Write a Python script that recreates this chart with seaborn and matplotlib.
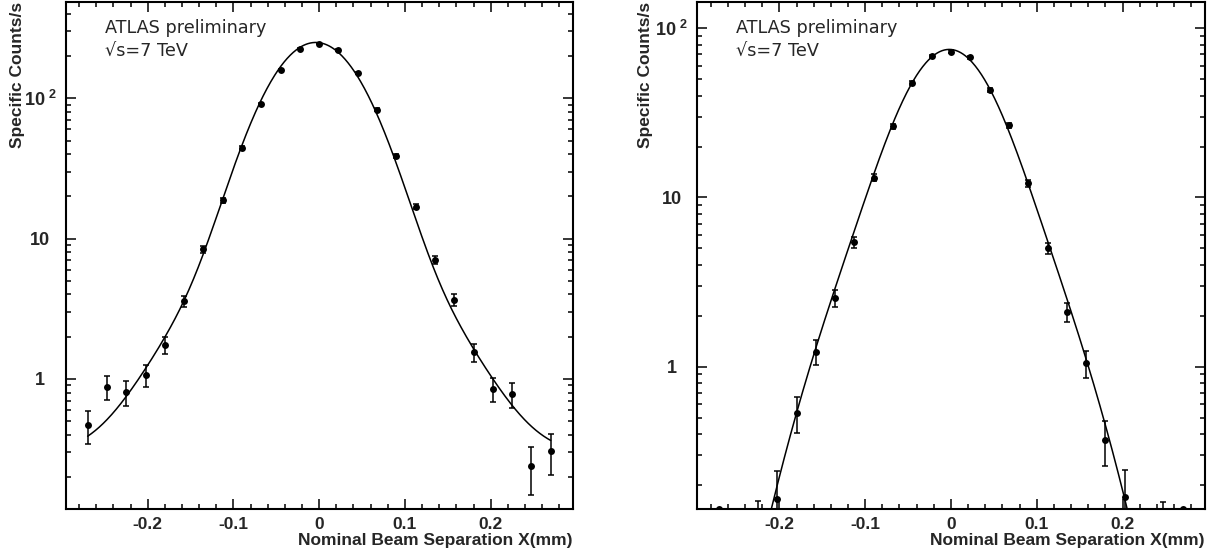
import numpy as np
import matplotlib
matplotlib.use("Agg")
import matplotlib.pyplot as plt
import matplotlib.ticker as mticker
import seaborn as sns

# ---------------- data ----------------
x_sep = [-0.27, -0.2475, -0.225, -0.2025, -0.18, -0.1575, -0.135, -0.1125, -0.09,
         -0.0675, -0.045, -0.0225, 0.0, 0.0225, 0.045, 0.0675, 0.09, 0.1125,
         0.135, 0.1575, 0.18, 0.2025, 0.225, 0.2475, 0.27]

left_counts = [0.47, 0.873, 0.808, 1.07, 1.75, 3.57, 8.4, 18.8, 44.3, 90.6, 160, 226,
               245, 220, 151, 83, 38.7, 16.9, 7.05, 3.65, 1.55, 0.85, 0.78, 0.238, 0.306]
left_err = [0.125, 0.17, 0.165, 0.19, 0.25, 0.33, 0.52, 0.78, 1.2, 1.7, 2.3, 2.7,
            2.8, 2.7, 2.2, 1.6, 1.1, 0.74, 0.48, 0.36, 0.22, 0.17, 0.16, 0.09, 0.10]

right_counts = [0.1439, 0.05, 0.09, 0.166, 0.534, 1.227, 2.55, 5.42, 13.1, 26.3, 47.7, 68.3,
                72.5, 67.3, 43.2, 26.7, 12.1, 5.0, 2.10, 1.05, 0.367, 0.17, 0.05, 0.09, 0.1439]
right_err = [0.0, 0.02, 0.07, 0.075, 0.13, 0.2, 0.29, 0.4, 0.65, 0.92, 1.24, 1.5,
             1.5, 1.5, 1.2, 0.93, 0.63, 0.4, 0.27, 0.19, 0.11, 0.075, 0.02, 0.068, 0.0]

# fitted model parameters (double Gaussian + constant) for the drawn fit curves
left_fit = dict(a1=236.0, s1=0.045, a2=13.5, s2=0.085, mu=-0.004, c=0.29)
right_fit = dict(a1=55.0, s1=0.041, a2=20.0, s2=0.066, mu=-0.002, c=0.0)
fit_range = (-0.27, 0.27)

left_ylim = (0.1185, 485.0)
right_ylim = (0.1439, 143.0)
x_lim = (-0.2956, 0.2960)

y_tick_vals = [1, 10, 100]
y_tick_text = ["1", "10", r"$\mathbf{10^{\ 2}}$"]

x_title = "Nominal Beam Separation X(mm)"
y_title = "Specific Counts/s"
text_lines = ["ATLAS preliminary", "\u221as=7 TeV"]


def fit_model(x, p):
    d = x - p["mu"]
    return (p["a1"] * np.exp(-d ** 2 / (2 * p["s1"] ** 2))
            + p["a2"] * np.exp(-d ** 2 / (2 * p["s2"] ** 2)) + p["c"])


# ---------------- styling ----------------
sns.set_theme(style="ticks")
plt.rcParams["font.family"] = ["Liberation Sans", "DejaVu Sans"]
plt.rcParams["mathtext.fontset"] = "custom"
plt.rcParams["mathtext.bf"] = "Liberation Sans:bold"
plt.rcParams["mathtext.rm"] = "Liberation Sans:bold"
plt.rcParams["axes.linewidth"] = 1.5
plt.rcParams["axes.edgecolor"] = "black"

W, H = 1220, 558
fig = plt.figure(figsize=(W / 100, H / 100), dpi=100)
fig.patch.set_facecolor("white")

ax_l = fig.add_axes([65.7 / W, 1 - 509 / H, (573 - 65.7) / W, (509 - 2) / H])
ax_r = fig.add_axes([697.3 / W, 1 - 509 / H, (1205 - 697.3) / W, (509 - 2) / H])

FS = 12.5

for ax, yv, ye, fitp, ylim, ylab_x in [
        (ax_l, left_counts, left_err, left_fit, left_ylim, -0.080),
        (ax_r, right_counts, right_err, right_fit, right_ylim, -0.087)]:
    ax.set_facecolor("white")
    cx = np.linspace(fit_range[0], fit_range[1], 600)
    sns.lineplot(x=cx, y=fit_model(cx, fitp), ax=ax, color="black", lw=1.1,
                 sort=False, estimator=None, zorder=2)
    ax.errorbar(x_sep, yv, yerr=ye, fmt="none", ecolor="black", elinewidth=1.1,
                capsize=2.4, capthick=1.1, zorder=3)
    sns.scatterplot(x=x_sep, y=yv, ax=ax, color="black", s=25, linewidth=0,
                    zorder=4)

    ax.set_yscale("log")
    ax.set_xlim(*x_lim)
    ax.set_ylim(*ylim)

    ax.xaxis.set_major_locator(mticker.MultipleLocator(0.1))
    ax.xaxis.set_minor_locator(mticker.MultipleLocator(0.02))
    ax.xaxis.set_major_formatter(mticker.FuncFormatter(
        lambda v, p: "0" if abs(v) < 1e-9 else f"{v:g}"))

    ax.yaxis.set_major_locator(mticker.FixedLocator(y_tick_vals))
    ax.yaxis.set_minor_locator(mticker.LogLocator(base=10, subs=np.arange(2, 10)))
    ax.yaxis.set_major_formatter(mticker.FixedFormatter(y_tick_text))
    ax.yaxis.set_minor_formatter(mticker.NullFormatter())

    ax.tick_params(which="both", direction="in", top=True, right=True,
                   color="black", width=1.1)
    ax.tick_params(which="major", length=7.2)
    ax.tick_params(which="minor", length=3.6)
    ax.tick_params(axis="x", which="major", pad=5.5, labelsize=FS)
    ax.tick_params(axis="y", which="major", pad=18.5, labelsize=FS + 0.5)
    for lab in ax.get_xticklabels() + ax.get_yticklabels():
        lab.set_fontweight("bold")
    for lab in ax.get_yticklabels():
        lab.set_horizontalalignment("center")

    for s in ax.spines.values():
        s.set_visible(True)
        s.set_linewidth(1.5)
        s.set_color("black")

    ax.set_xlabel(x_title, loc="right", fontsize=FS, fontweight="bold")
    ax.xaxis.set_label_coords(1.0, -0.047)
    ax.set_ylabel(y_title, loc="top", fontsize=FS, fontweight="bold")
    ax.yaxis.set_label_coords(ylab_x, 1.0)

    ax.text(0.077, 0.939, text_lines[0], transform=ax.transAxes, fontsize=12.7,
            family=["DejaVu Sans"], va="baseline", ha="left")
    ax.text(0.077, 0.893, text_lines[1], transform=ax.transAxes, fontsize=12.7,
            family=["DejaVu Sans"], va="baseline", ha="left")

fig.savefig("out.png", dpi=100, facecolor="white")
